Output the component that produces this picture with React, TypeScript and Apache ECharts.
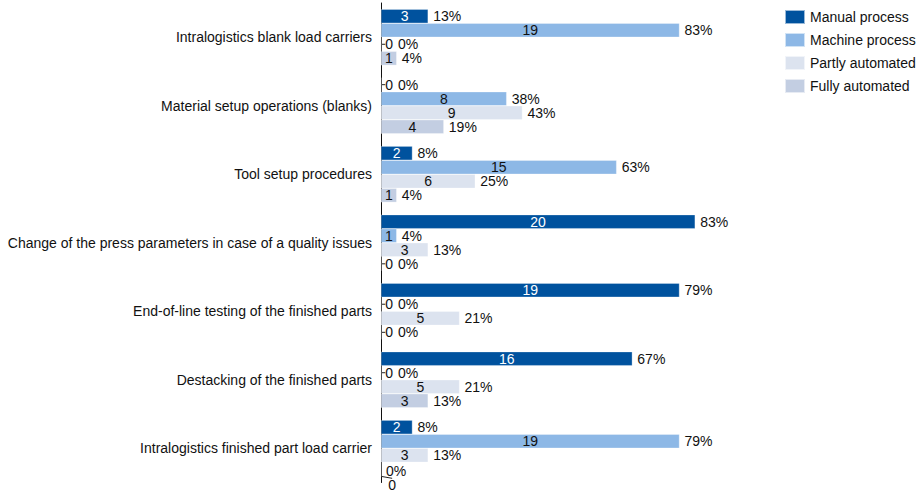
import React, { useEffect, useRef } from "react";
import * as echarts from "echarts";

const categories = [
  "Intralogistics blank load carriers",
  "Material setup operations (blanks)",
  "Tool setup procedures",
  "Change of the press parameters in case of a quality issues",
  "End-of-line testing of the finished parts",
  "Destacking of the finished parts",
  "Intralogistics finished part load carrier",
];

const seriesNames = ["Manual process", "Machine process", "Partly automated", "Fully automated"];

const manualCounts = [3, 0, 2, 20, 19, 16, 2];
const machineCounts = [19, 8, 15, 1, 0, 0, 19];
const partlyCounts = [0, 9, 6, 3, 5, 5, 3];
const fullyCounts = [1, 4, 1, 0, 0, 3, 0];

const manualPct = [13, 0, 8, 83, 79, 67, 8];
const machinePct = [83, 38, 63, 4, 0, 0, 79];
const partlyPct = [0, 43, 25, 13, 21, 21, 13];
const fullyPct = [4, 19, 4, 0, 0, 13, 0];

const colors = ["#00529e", "#8db8e6", "#dce3ef", "#c3cee2"];
const countColors = ["#ffffff", "#111111", "#111111", "#111111"];

const FONT = "Liberation Sans, Arial, sans-serif";
const FS = 14;

export default function App() {
  const ref = useRef<HTMLDivElement>(null);
  useEffect(() => {
    if (!ref.current) return;
    const chart = echarts.init(ref.current, undefined, { renderer: "svg" });
    const counts = [manualCounts, machineCounts, partlyCounts, fullyCounts];
    const pcts = [manualPct, machinePct, partlyPct, fullyPct];
    const lastIdx = categories.length - 1;

    const series: any[] = [];
    counts.forEach((arr, si) => {
      const special = (di: number) => si === 3 && di === lastIdx && arr[di] === 0;
      series.push({
        name: seriesNames[si],
        type: "bar",
        stack: "s" + si,
        data: arr.map((v) =>
          v === 0
            ? { value: v, label: { position: "right", distance: 4, color: "#111111" } }
            : { value: v }
        ),
        itemStyle: { color: colors[si], borderColor: "rgba(255,255,255,0.6)", borderWidth: 0.5 },
        label: {
          show: true,
          position: "inside",
          color: countColors[si],
          fontFamily: FONT,
          fontSize: FS,
          formatter: (p: any) => String(p.value),
        },
        labelLine: { show: true, lineStyle: { color: "#222", width: 1 }, length2: 0 },
        labelLayout: (p: any) => (special(p.dataIndex) ? { dx: 3, dy: 16 } : {}),
        emphasis: { disabled: true },
      });
    });
    pcts.forEach((arr, si) => {
      series.push({
        name: seriesNames[si],
        type: "bar",
        stack: "s" + si,
        data: arr.map((_, di) => {
          const zero = counts[si][di] === 0;
          const special = si === 3 && di === lastIdx && zero;
          return {
            value: 0,
            label: { distance: zero && !special ? 17 : 5, offset: special ? [0, 2] : [0, 0] },
          };
        }),
        itemStyle: { color: colors[si], borderWidth: 0 },
        label: {
          show: true,
          position: "right",
          color: "#111111",
          fontFamily: FONT,
          fontSize: FS,
          formatter: (p: any) => pcts[si][p.dataIndex] + "%",
        },
        emphasis: { disabled: true },
      });
    });

    chart.setOption({
      animation: false,
      textStyle: { fontFamily: FONT },
      legend: {
        data: seriesNames,
        orient: "vertical",
        left: 784,
        top: 9,
        padding: 0,
        icon: "rect",
        itemWidth: 20,
        itemHeight: 14,
        itemGap: 7,
        textStyle: { fontFamily: FONT, fontSize: FS, color: "#111" },
        selectedMode: false,
      },
      grid: { left: 381, right: 166, top: 3, bottom: 11.5, containLabel: false },
      xAxis: { type: "value", min: 0, max: 24, show: false },
      yAxis: {
        type: "category",
        inverse: true,
        data: categories,
        axisLine: { show: true, lineStyle: { color: "#111", width: 1 } },
        axisTick: { show: false },
        axisLabel: { fontFamily: FONT, fontSize: FS, color: "#111", margin: 9 },
      },
      series: series.map((s) => ({ ...s, barGap: "0%", barCategoryGap: "18%" })),
    });
    return () => chart.dispose();
  }, []);
  return (
    <div
      ref={ref}
      style={{ position: "fixed", left: 0, top: 0, width: 924, height: 494, background: "#fff" }}
    />
  );
}
